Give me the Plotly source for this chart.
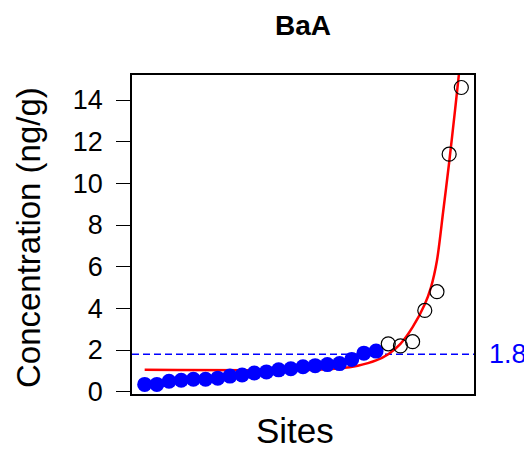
import plotly.graph_objects as go

# sorted site concentrations (ng/g)
conc_fit = [0.35, 0.35, 0.5, 0.55, 0.6, 0.6, 0.65, 0.75, 0.8, 0.9,
            0.95, 1.05, 1.1, 1.2, 1.25, 1.3, 1.35, 1.55, 1.85, 1.95]
conc_high = [2.3, 2.2, 2.4, 3.9, 4.8, 11.4, 14.6]
threshold = 1.8

# fitted curve
curve_site = [1, 15, 17, 18.5, 20, 21, 22, 23, 24, 24.5, 25, 25.5, 26, 26.5, 26.85]
curve_conc = [1.05, 1.05, 1.12, 1.25, 1.5, 1.8, 2.3, 3.1, 4.2, 5.0, 6.3, 8.6, 11.0, 13.6, 15.5]

n_fit = len(conc_fit)
n_all = n_fit + len(conc_high)
site_fit = list(range(1, n_fit + 1))
site_high = list(range(n_fit + 1, n_all + 1))

FONT = "Arial, Liberation Sans, sans-serif"

fig = go.Figure()
fig.add_trace(go.Scatter(x=curve_site, y=curve_conc, mode="lines",
                         line=dict(color="#ff0000", width=2.5, shape="spline", smoothing=0.8),
                         showlegend=False))
fig.add_trace(go.Scatter(x=site_fit, y=conc_fit, mode="markers",
                         marker=dict(color="#0000ff", size=15, line=dict(width=0)),
                         showlegend=False))
fig.add_trace(go.Scatter(x=site_high, y=conc_high, mode="markers",
                         marker=dict(color="rgba(255,255,255,0)", size=14, symbol="circle",
                                     line=dict(color="black", width=1.2)),
                         showlegend=False))

fig.add_hline(y=threshold, line_width=1.5, line_dash="7px,4px", line_color="#0000ff",
              layer="below")

pad = 0.04 * (n_all - 1)
fig.update_xaxes(range=[1 - pad, n_all + pad], showticklabels=False, ticks="",
                 showgrid=False, zeroline=False, showline=True, mirror=True,
                 linecolor="black", linewidth=1.5)
fig.update_yaxes(range=[-0.11, 15.2], tickvals=[0, 2, 4, 6, 8, 10, 12, 14],
                 ticks="outside", ticklen=14, tickwidth=1, tickcolor="black",
                 ticklabelstandoff=8,
                 tickfont=dict(family=FONT, size=27, color="black"),
                 showgrid=False, zeroline=False, showline=True, mirror=True,
                 linecolor="black", linewidth=1.5)

fig.add_annotation(text="Concentration (ng/g)", xref="paper", yref="paper",
                   x=-0.304, y=0.489, textangle=-90, showarrow=False,
                   xanchor="center", yanchor="middle",
                   font=dict(family=FONT, size=33, color="black"))
fig.add_annotation(text="Sites", xref="paper", yref="paper", x=0.477, y=-0.113,
                   showarrow=False, xanchor="center", yanchor="middle",
                   font=dict(family=FONT, size=35, color="black"))
fig.add_annotation(text=str(threshold), xref="paper", yref="y", x=1.038, y=threshold,
                   showarrow=False, xanchor="left", yanchor="middle",
                   font=dict(family=FONT, size=27, color="#0000ff"))

# page body has an 8px margin, so the figure is drawn 8px smaller
fig.update_layout(
    width=524, height=450,
    margin=dict(l=124, r=58, t=67, b=64, autoexpand=False),
    paper_bgcolor="white", plot_bgcolor="white",
    title=dict(text="<b>BaA</b>", x=0.5, xref="paper", y=1 - 17 / 450,
               yanchor="middle", font=dict(family=FONT, size=28, color="black")),
)

fig.write_html("out.html")
